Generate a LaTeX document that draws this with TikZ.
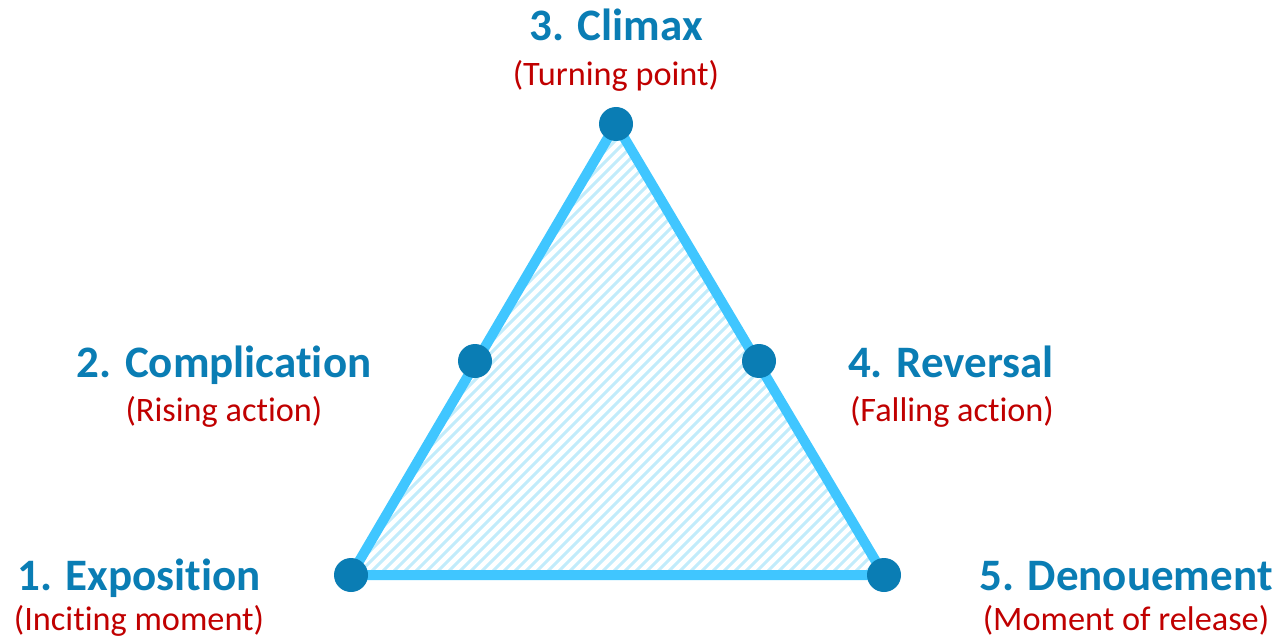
\documentclass[tikz,border=0pt]{standalone}
\usepackage{fontspec}
\setmainfont[Ligatures=NoCommon]{Carlito}
\definecolor{dotblue}{HTML}{0A7DB4}
\definecolor{edgeblue}{HTML}{40C6FF}
\definecolor{hatchblue}{HTML}{C2ECFB}
\definecolor{subred}{HTML}{C00000}
\tikzset{
  dot/.style={circle, fill=dotblue, inner sep=0pt, minimum size=34pt},
  edge/.style={draw=edgeblue, line width=10pt, line join=miter},
  title/.style={text=dotblue, font=\bfseries\fontsize{45}{54}\selectfont, anchor=base, inner sep=0pt},
  sub/.style={text=subred, font=\fontsize{34.3}{40}\selectfont, anchor=base, inner sep=0pt},
}
\begin{document}
\begin{tikzpicture}[x=1pt,y=-1pt]
\useasboundingbox (0,0) rectangle (1279,639);
\coordinate (cT) at (616,124);
\coordinate (cL) at (351,575);
\coordinate (cR) at (884,575);
\coordinate (cML) at (475,361);
\coordinate (cMR) at (759,361);
% hatching
\begin{scope}
\clip (cL) -- (cT) -- (cR) -- cycle;
\foreach \c in {470,481,...,1470}
  \draw[hatchblue, line width=3pt] (\c-700,700) -- (\c-50,50);
\end{scope}
\draw[edge] (cL) -- (cT) -- (cR) -- cycle;
% dots
\node[dot] (T) at (cT) {};
\node[dot] (L) at (cL) {};
\node[dot] (R) at (cR) {};
\node[dot] (ML) at (cML) {};
\node[dot] (MR) at (cMR) {};
% labels
\node[title] (t3) at (616,41) {3. Climax};
\node[sub] (s3) at (616,86) {(Turning point)};
\node[title] (t2) at (224,377) {2. Complication};
\node[sub] (s2) at (224,421) {(Rising action)};
\node[title] (t4) at (951,377) {4. Reversal};
\node[sub] (s4) at (952,421) {(Falling action)};
\node[title] (t1) at (139,590) {1. Exposition};
\node[sub] (s1) at (139,630) {(Inciting moment)};
\node[title] (t5) at (1126,590) {5. Denouement};
\node[sub] (s5) at (1126,630) {(Moment of release)};
\end{tikzpicture}
\end{document}
